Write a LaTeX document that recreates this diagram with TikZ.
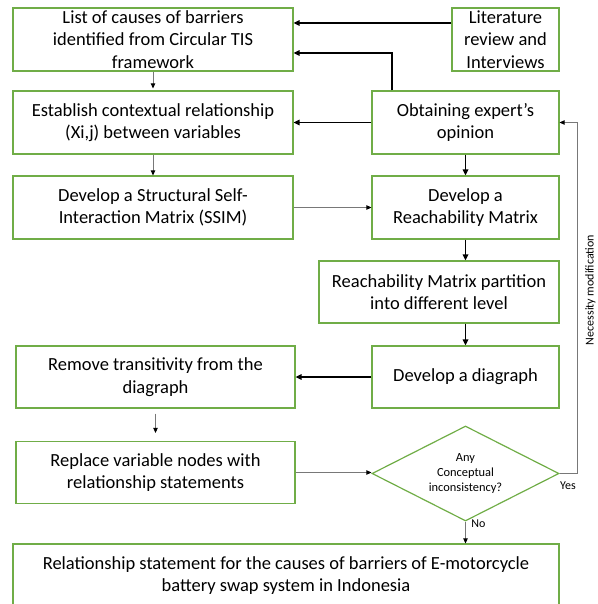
\documentclass[tikz,border=0pt]{standalone}
\usepackage{fontspec}
\setmainfont{Carlito}
\usetikzlibrary{shapes.geometric,arrows.meta}
\definecolor{boxgreen}{RGB}{112,173,71}
\definecolor{thinline}{RGB}{120,120,120}
\begin{document}
\begin{tikzpicture}[x=1pt,y=-1pt,
  stepbox/.style={draw=boxgreen,line width=1.2pt,rectangle,inner sep=0pt,
    minimum height=63pt,align=center,font=\fontsize{18.5}{22.6}\selectfont,text=black},
  decision/.style={draw=boxgreen,line width=1.2pt,diamond,aspect=2,inner sep=0pt,
    minimum width=187pt,minimum height=95pt,align=center,
    font=\fontsize{12.4}{15.1}\selectfont},
  mainflow/.style={draw=black,line width=1.5pt,-{Triangle[length=6pt,width=5.5pt]}},
  sideflow/.style={draw=thinline,line width=0.9pt,-{Triangle[length=5pt,width=4.5pt,color=black]}},
  small/.style={font=\fontsize{12}{14}\selectfont,inner sep=0pt}]
\useasboundingbox (0,0) rectangle (597,604);

% process boxes
\node[stepbox,minimum width=280pt] (list) at (153,39.5)
  {List of causes of barriers\\identified from Circular TIS\\framework};
\node[stepbox,minimum width=280pt] (estab) at (153,122.5)
  {Establish contextual relationship\\(Xi,j) between variables};
\node[stepbox,minimum width=280pt] (ssim) at (153,207.5)
  {Develop a Structural Self-\\Interaction Matrix (SSIM)};
\node[stepbox,minimum width=107pt] (lit) at (505.5,39.5)
  {Literature\\review and\\Interviews};
\node[stepbox,minimum width=187pt] (expert) at (465.5,122.5)
  {Obtaining expert’s\\opinion};
\node[stepbox,minimum width=187pt] (reach) at (465.5,207.5)
  {Develop a\\Reachability Matrix};
\node[stepbox,minimum width=240pt,minimum height=62pt] (part) at (439,292)
  {Reachability Matrix partition\\into different level};
\node[stepbox,minimum width=187pt,minimum height=62pt] (digraph) at (465.5,377)
  {Develop a diagraph};
\node[stepbox,minimum width=279pt,minimum height=62pt] (remove) at (155.5,377)
  {Remove transitivity from the\\diagraph};
\node[stepbox,minimum width=279pt,minimum height=62pt] (replace) at (155.5,472.5)
  {Replace variable nodes with\\relationship statements};
\node[decision] (dia) at (465.5,473.5)
  {Any\\Conceptual\\inconsistency?};
\node[stepbox,minimum width=546pt] (final) at (286,575.5)
  {Relationship statement for the causes of barriers of E-motorcycle\\battery swap system in Indonesia};

% routing points
\coordinate (ly) at (0,23);
\coordinate (ky) at (392,53);
\coordinate (lx) at (577,0);

% connectors
\draw[mainflow] (lit.west |- ly) -- (list.east |- ly);
\draw[mainflow] (expert.north -| ky) |- (list.east |- ky);
\draw[mainflow] (expert.west) -- (estab.east);
\draw[sideflow,shorten >=2pt] (list.south) -- (estab.north);
\draw[sideflow] (estab.south) -- (ssim.north);
\draw[sideflow] (ssim.east) -- (reach.west);
\draw[mainflow] (expert.south) -- (reach.north);
\draw[mainflow] (reach.south) -- (reach.south |- part.north);
\draw[mainflow] (part.south -| digraph.north) -- (digraph.north);
\draw[mainflow] (digraph.west) -- (remove.east);
\draw[sideflow,shorten <=5pt,shorten >=8pt] (remove.south) -- (replace.north);
\draw[sideflow] (replace.east) -- (replace.east -| dia.west);
\draw[sideflow] (dia.east) -- (dia.east -| lx) |- (expert.east);
\draw[sideflow] (dia.south) -- (dia.south |- final.north);

% branch labels
\node[small] (yes) at (568,486) {Yes};
\node[small] (no) at (478.5,524) {No};
\node[small,rotate=90] (modlabel) at (590.5,290) {Necessity modification};
\end{tikzpicture}
\end{document}
